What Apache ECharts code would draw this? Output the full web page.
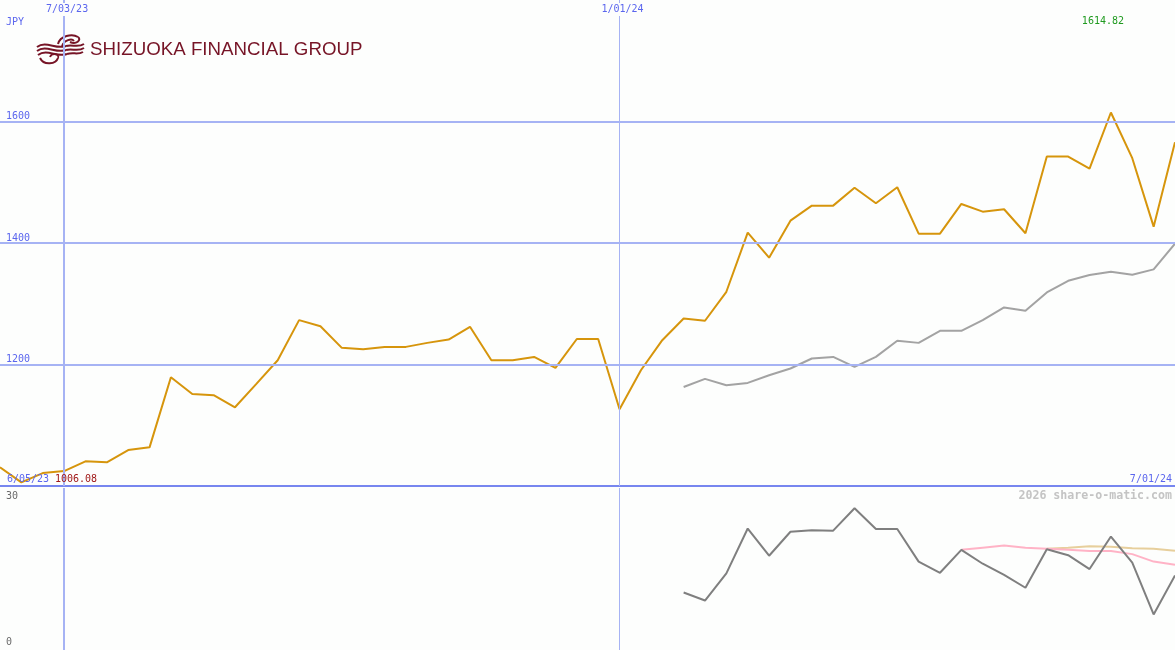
<!DOCTYPE html>
<html><head><meta charset="utf-8">
<script src="https://cdn.jsdelivr.net/npm/echarts@6/dist/echarts.min.js"></script>
<style>html,body{margin:0;padding:0;background:#fdfefd;}#c{width:1175px;height:650px;}</style>
</head><body><div id="c"></div>
<script>
// weekly closes, index 0 .. 55
const price = [1030.7,1006.08,1021.3,1024.6,1040.6,1039,1059.2,1063.6,1179,1151.5,1149.4,1129.6,1168,1207,1273,1263,1227.4,1225.2,1229,1229,1235.6,1241,1262,1207,1207,1212.5,1194.4,1242,1242,1126.3,1190.6,1240,1275.8,1272,1319.7,1417,1375.8,1436.8,1461.5,1461.5,1491,1465.5,1491.8,1415.3,1415.3,1464.3,1451.6,1455.5,1416,1542.3,1542.3,1522.5,1614.82,1539.6,1426.9,1566];
const maStart = 32;
const movingAvg = [1163,1176.3,1165.9,1169.7,1182.4,1193.4,1209.9,1212.5,1196,1212.5,1239,1235.6,1255.4,1255.4,1273,1294,1288.4,1318.7,1337.8,1347.2,1352.7,1347.7,1356.6,1399];
const oscStart = 32;
const osc = [10.4,8.9,14.0,22.4,17.3,21.8,22.1,22.0,26.2,22.3,22.3,16.2,14.1,18.4,15.8,13.7,11.3,18.5,17.4,14.8,20.9,16.0,6.3,13.6];
const pinkStart = 45;
const oscPink = [18.4,18.8,19.2,18.8,18.6,18.4,18.2,18.2,17.6,16.2,15.6];
const tanStart = 49;
const oscTan = [18.6,18.8,19.1,19.0,18.7,18.6,18.25];
const priceTicks = [1200,1400,1600];
const dateTicks = [3, 29];
const dateTickLabels = ['7/03/23','1/01/24'];
const startLabel = '6/05/23';
const endLabel = '7/01/24';
const currency = 'JPY';
const oscTicks = [30, 0];
const company = 'SHIZUOKA FINANCIAL GROUP';
const watermark = '2026 share-o-matic.com';

const toPairs = (arr, start) => arr.map((v, i) => [start + i, v]);
const BLUE = '#5b66ee';
const GRIDC = '#a6b3f4';
const LOGO = '#761426';
const MONO = '"DejaVu Sans Mono", monospace';
const maxP = Math.max(...price), minP = Math.min(...price);
const bz = (x1, y1, cpx1, cpy1, cpx2, cpy2, x2, y2, w) => ({
  type: 'bezierCurve', shape: {x1, y1, cpx1, cpy1, cpx2, cpy2, x2, y2},
  style: {fill: 'none', stroke: LOGO, lineWidth: w || 2}
});

const chart = echarts.init(document.getElementById('c'), null, {renderer: 'canvas'});
chart.setOption({
  backgroundColor: '#fdfefd',
  animation: false,
  grid: [
    {left: 0, right: 0, top: 0, height: 486},
    {left: 0, right: 0, top: 488, bottom: 0}
  ],
  xAxis: [
    {type: 'value', gridIndex: 0, min: 0, max: 55, position: 'top', z: 5,
     axisLine: {show: false}, axisTick: {show: false}, splitLine: {show: false},
     axisLabel: {show: true, inside: true, margin: 3, customValues: dateTicks,
       formatter: v => dateTickLabels[dateTicks.indexOf(v)] || '',
       color: BLUE, fontFamily: 'DejaVu Sans Mono', fontSize: 10,
       backgroundColor: '#fdfefd', padding: [1, 1, 2, 7]}},
    {type: 'value', gridIndex: 1, min: 0, max: 55, show: false}
  ],
  yAxis: [
    {type: 'value', gridIndex: 0, min: 1000, max: 1800, interval: 200,
     axisLine: {show: false}, axisTick: {show: false}, splitLine: {show: false},
     axisLabel: {inside: true, margin: 6, verticalAlign: 'bottom', showMinLabel: false, showMaxLabel: false,
       formatter: v => String(v),
       color: BLUE, fontFamily: 'DejaVu Sans Mono', fontSize: 10}},
    {type: 'value', gridIndex: 1, min: -0.375, max: 30, show: false}
  ],
  series: [
    {type: 'line', xAxisIndex: 0, yAxisIndex: 0, data: [], z: 1, silent: true,
     markLine: {silent: true, symbol: 'none', label: {show: false}, animation: false,
       data: [
         ...priceTicks.map(v => ({yAxis: v, lineStyle: {color: GRIDC, width: 2, type: 'solid'}})),
         {yAxis: 1000, lineStyle: {color: '#7786ef', width: 2, type: 'solid'}},
         {xAxis: dateTicks[0], lineStyle: {color: GRIDC, width: 2, type: 'solid'}},
         {xAxis: dateTicks[1], lineStyle: {color: GRIDC, width: 1, type: 'solid'}}
       ]}},
    {type: 'line', xAxisIndex: 1, yAxisIndex: 1, data: [], z: 1, silent: true,
     markLine: {silent: true, symbol: 'none', label: {show: false}, animation: false,
       data: [
         {xAxis: dateTicks[0], lineStyle: {color: GRIDC, width: 2, type: 'solid'}},
         {xAxis: dateTicks[1], lineStyle: {color: GRIDC, width: 1, type: 'solid'}}
       ]}},
    {type: 'line', xAxisIndex: 0, yAxisIndex: 0, data: toPairs(movingAvg, maStart), z: 3,
     showSymbol: false, lineStyle: {color: '#a3a3a3', width: 2}},
    {type: 'line', xAxisIndex: 0, yAxisIndex: 0, data: toPairs(price, 0), z: 4,
     showSymbol: false, lineStyle: {color: '#d6950c', width: 2}},
    {type: 'line', xAxisIndex: 1, yAxisIndex: 1, data: toPairs(oscTan, tanStart), z: 3,
     showSymbol: false, lineStyle: {color: '#e7cf9c', width: 2}},
    {type: 'line', xAxisIndex: 1, yAxisIndex: 1, data: toPairs(oscPink, pinkStart), z: 3,
     showSymbol: false, lineStyle: {color: '#ffb3c6', width: 2}},
    {type: 'line', xAxisIndex: 1, yAxisIndex: 1, data: toPairs(osc, oscStart), z: 4,
     showSymbol: false, lineStyle: {color: '#7f7f7f', width: 2}}
  ],
  graphic: [
    {type: 'text', x: 6, y: 22, z: 10, style: {text: currency, font: '10px ' + MONO, fill: BLUE, verticalAlign: 'middle'}},
    {type: 'text', x: 1124, y: 21, z: 10, style: {text: maxP.toFixed(2), font: '10px ' + MONO, fill: '#1f9a1f', align: 'right', verticalAlign: 'middle'}},
    {type: 'text', x: 7, y: 479, z: 10, style: {text: startLabel, font: '10px ' + MONO, fill: BLUE, verticalAlign: 'middle'}},
    {type: 'text', x: 55, y: 479, z: 10, style: {text: minP.toFixed(2), font: '10px ' + MONO, fill: '#a01818', verticalAlign: 'middle'}},
    {type: 'text', x: 1172, y: 479, z: 10, style: {text: endLabel, font: '10px ' + MONO, fill: BLUE, align: 'right', verticalAlign: 'middle'}},
    {type: 'text', x: 1172, y: 496, z: 10, style: {text: watermark, font: 'bold 11.6px ' + MONO, fill: '#c4c4c4', align: 'right', verticalAlign: 'middle'}},
    {type: 'text', x: 6, y: 496, z: 10, style: {text: String(oscTicks[0]), font: '10px ' + MONO, fill: '#6a6a6a', verticalAlign: 'middle'}},
    {type: 'text', x: 6, y: 642, z: 10, style: {text: String(oscTicks[1]), font: '10px ' + MONO, fill: '#6a6a6a', verticalAlign: 'middle'}},
    {type: 'group', z: 10, children: [
      {type: 'rect', shape: {x: 34, y: 32, width: 52, height: 34}, style: {fill: '#fdfefd'}},
      // upper curl
      bz(58,44, 60,36, 72,33, 78,37, 2),
      bz(78,37, 82,40, 76,45, 70,42, 2),
      bz(62,46, 64,40, 72,38, 74,41, 1.8),
      // parallel waves
      bz(37,47, 46,40, 56,50, 66,46, 2),
      bz(66,46, 72,44, 78,48, 84,44, 2),
      bz(37,51, 46,44, 56,54, 66,50, 2),
      bz(66,50, 72,48, 78,52, 84,48, 2),
      bz(38,55, 47,48, 57,58, 67,54, 2),
      bz(67,54, 73,52, 78,55, 83,52, 2),
      // lower curl
      bz(40,58, 44,66, 56,64, 58,58, 2),
      bz(58,58, 60,54, 52,52, 50,57, 1.8),
      {type: 'text', x: 90, y: 50.5, scaleX: 1.04, originX: 0, originY: 0,
       style: {text: company, font: '18px "Liberation Sans", sans-serif', fill: LOGO, verticalAlign: 'middle'}}
    ]}
  ]
});
</script>
</body></html>
